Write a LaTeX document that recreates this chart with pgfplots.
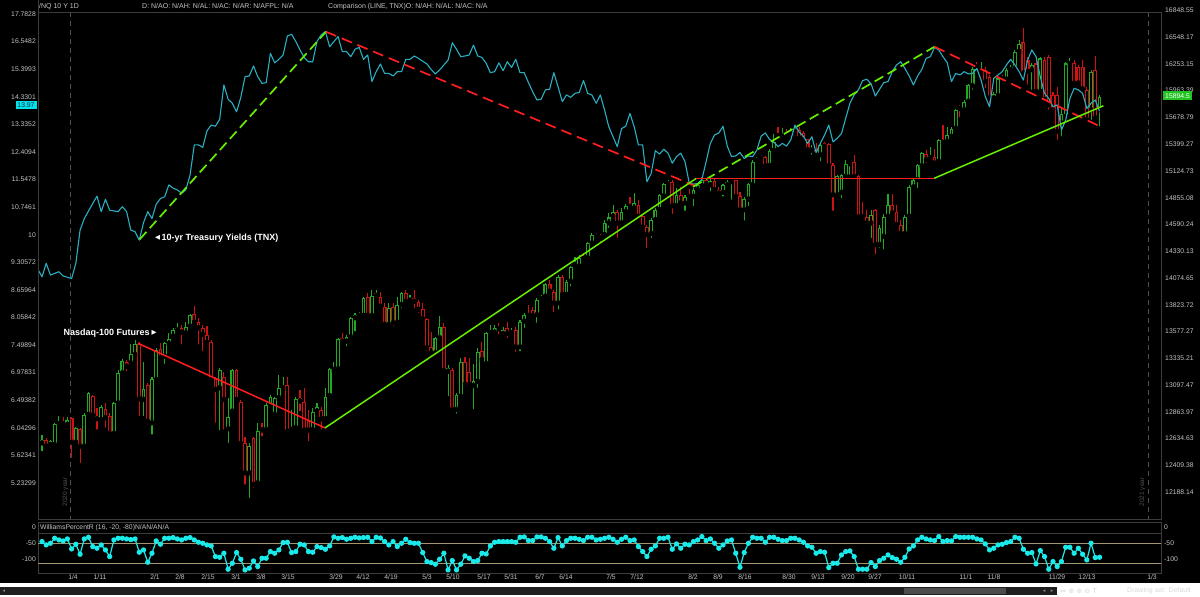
\documentclass[border=0pt]{standalone}
\usepackage{pgfplots}
\pgfplotsset{compat=1.18}
\usepackage{pgfplotstable}
\usepackage{fontspec}
\setmainfont{Liberation Sans}
\newfontfamily\symfont{DejaVu Sans}
\newcommand\fs[1]{\fontsize{#1}{#1}\selectfont}
\newcommand\LG[1]{0.4342945*ln(\thisrow{#1})}

\definecolor{upc}{HTML}{22A822}
\definecolor{dnc}{HTML}{CC1414}
\definecolor{tnxc}{HTML}{2AAFC2}
\definecolor{wprc}{HTML}{1AEAEA}
\definecolor{limec}{HTML}{66EE00}
\definecolor{redl}{HTML}{FF1E1E}
\definecolor{framec}{HTML}{3C3C3C}
\definecolor{lblc}{HTML}{C4C4C4}
\definecolor{tanc}{HTML}{A3966E}
\definecolor{yearc}{HTML}{505050}
\definecolor{cyanb}{HTML}{00E1F0}
\definecolor{greenb}{HTML}{22C422}

% /NQ daily bars, up and down days (i = bar index)
\pgfplotstableread[row sep=\\]{
i o h l c\\
0 12594 12666 12510 12623\\ 2 12580 12623 12544 12614\\ 3 12580 12766 12572 12757\\ 4 12757 12829 12737 12771\\
6 12751 12817 12714 12794\\ 8 12600 12737 12580 12723\\ 10 12566 12851 12552 12837\\ 11 12837 13040 12823 13031\\
14 12794 12924 12780 12903\\ 17 12674 12953 12651 12944\\ 18 12938 13231 12924 13201\\ 19 13201 13326 13186 13314\\
21 13290 13461 13275 13371\\ 22 13365 13500 13350 13461\\ 24 12967 13305 12808 13060\\ 26 12766 13171 12651 13148\\
27 13142 13425 13136 13410\\ 29 13350 13485 13266 13470\\ 30 13464 13562 13455 13507\\ 31 13531 13607 13516 13592\\
32 13586 13653 13577 13607\\ 34 13562 13668 13546 13622\\ 35 13622 13738 13592 13729\\ 42 13069 13246 12686 13231\\
44 12714 12982 12580 12823\\ 45 12866 13237 12851 13231\\ 49 12343 12594 12123 12572\\ 51 12260 12766 12246 12703\\
53 12708 12938 12694 12924\\ 54 12915 13010 12909 12990\\ 55 12837 12996 12829 12982\\ 56 12982 13186 12967 13069\\
57 13069 13171 13054 13084\\ 59 12708 12880 12694 12737\\ 60 12723 12996 12714 12973\\ 64 12708 12895 12703 12866\\
65 12866 12938 12851 12909\\ 67 12800 13069 12780 12996\\ 68 13002 13246 12990 13237\\ 69 13231 13305 13216 13246\\
70 13237 13516 13216 13507\\ 72 13485 13546 13425 13531\\ 73 13525 13714 13516 13699\\ 74 13699 13750 13562 13729\\
75 13720 13760 13699 13735\\ 76 13720 13900 13699 13884\\ 78 13720 13962 13714 13906\\ 79 13906 13962 13894 13931\\
82 13638 13837 13607 13797\\ 84 13659 13900 13638 13822\\ 85 13822 13947 13775 13931\\ 87 13862 13915 13837 13881\\
93 13380 13531 13350 13516\\ 94 13516 13720 13500 13622\\ 96 13216 13275 12982 13246\\ 98 12880 13025 12829 13010\\
99 12996 13335 12982 13305\\ 102 13089 13284 12866 13136\\ 103 13127 13425 13054 13395\\ 105 13284 13577 13275 13562\\
106 13562 13638 13546 13577\\ 107 13567 13638 13562 13607\\ 109 13555 13622 13546 13592\\ 111 13562 13607 13546 13586\\
113 13434 13684 13380 13668\\ 114 13668 13744 13592 13729\\ 117 13729 13884 13638 13869\\ 118 13875 13915 13869 13894\\
119 13900 14031 13884 14018\\ 122 13837 14103 13760 14087\\ 124 13915 14056 13900 14040\\ 125 14040 14190 13978 14177\\
126 14199 14279 14167 14222\\ 127 14183 14295 14167 14263\\ 129 14263 14422 14247 14406\\ 130 14406 14504 14390 14488\\
133 14488 14634 14471 14602\\ 134 14602 14699 14536 14660\\ 135 14667 14782 14641 14715\\ 137 14602 14749 14569 14715\\
138 14715 14792 14693 14772\\ 140 14749 14898 14732 14798\\ 144 14497 14651 14439 14634\\ 145 14634 14749 14602 14732\\
146 14732 14898 14715 14881\\ 147 14871 15005 14848 14992\\ 148 14992 15032 14965 15015\\ 150 14772 14948 14749 14881\\
152 14798 14881 14706 14858\\ 154 14865 14948 14749 14932\\ 155 14932 14998 14905 14982\\ 156 14972 15065 14965 15038\\
158 14982 15048 14898 15025\\ 161 14905 14998 14848 14982\\ 162 14982 15032 14972 15015\\ 163 15012 15038 14815 15025\\
166 14732 14865 14608 14838\\ 167 14838 15005 14749 14992\\ 168 14982 15236 14972 15219\\ 169 15229 15270 15219 15253\\
170 15253 15287 15236 15270\\ 172 15174 15345 15167 15332\\ 173 15332 15511 15322 15424\\ 175 15484 15564 15459 15504\\
177 15504 15564 15484 15539\\ 178 15529 15588 15504 15553\\ 182 15332 15390 15270 15345\\ 184 15287 15414 15202 15390\\
188 14881 15082 14865 15072\\ 189 14905 15099 14832 15082\\ 190 15065 15236 15048 15195\\ 191 15195 15229 15065 15219\\
196 14602 14732 14439 14683\\ 198 14390 14585 14342 14553\\ 199 14471 14699 14327 14667\\ 200 14667 14898 14651 14782\\
204 14497 14683 14488 14667\\ 205 14667 14982 14660 14965\\ 206 14958 15048 14932 15032\\ 207 15032 15202 14932 15184\\
208 15174 15322 15167 15304\\ 210 15253 15373 15236 15277\\ 212 15219 15449 15209 15442\\ 214 15424 15581 15407 15494\\
215 15477 15574 15470 15564\\ 216 15564 15774 15546 15756\\ 218 15756 15863 15739 15845\\ 219 15845 16035 15827 16024\\
220 16013 16222 15952 16204\\ 222 16168 16277 16150 16204\\ 225 15881 15952 15863 15927\\ 226 15906 16113 15891 16095\\
228 16084 16215 16070 16193\\ 229 16186 16240 16168 16222\\ 230 16204 16405 16193 16387\\ 231 16387 16515 16369 16478\\
234 16186 16259 15952 16240\\ 236 15952 16332 15934 16314\\ 241 15616 15774 15459 15721\\ 242 15686 16277 15669 16259\\
243 16251 16314 16222 16277\\ 248 15756 16186 15634 16168\\ 250 15756 15916 15564 15894.5\\
}\nqup

\pgfplotstableread[row sep=\\]{
i o h l c\\
1 12623 12637 12552 12566\\ 5 12774 12817 12737 12757\\ 7 12808 12817 12454 12600\\ 9 12714 12723 12412 12566\\
12 13002 13010 12794 12829\\ 13 12829 12895 12694 12800\\ 15 12886 12938 12708 12808\\ 16 12829 12851 12657 12674\\
20 13299 13320 13201 13260\\ 23 13461 13485 12808 12973\\ 25 13098 13113 12737 12780\\ 28 13416 13470 13305 13335\\
33 13607 13638 13440 13567\\ 36 13738 13812 13638 13659\\ 37 13668 13699 13440 13607\\ 38 13607 13638 13380 13546\\
39 13546 13628 13440 13476\\ 40 13485 13500 13127 13142\\ 41 13148 13171 12751 13054\\ 43 13171 13216 12694 12967\\
46 13231 13237 12953 12967\\ 47 12953 12967 12580 12588\\ 48 12600 12651 12233 12343\\ 50 12637 12651 12205 12246\\
52 12723 12766 12637 12703\\ 58 13098 13171 12680 12694\\ 61 12982 13054 12851 12953\\ 62 12953 13069 12694 12703\\
63 12789 12880 12594 12703\\ 66 12880 12909 12694 12800\\ 71 13516 13562 13470 13485\\ 77 13894 13931 13684 13720\\
80 13900 13947 13791 13806\\ 81 13806 13837 13622 13638\\ 83 13800 13837 13607 13653\\ 86 13931 13962 13837 13853\\
88 13884 13962 13775 13853\\ 89 13853 13869 13729 13775\\ 90 13784 13844 13684 13690\\ 91 13690 13699 13380 13425\\
92 13434 13577 13335 13380\\ 95 13622 13653 13216 13222\\ 97 13231 13246 12866 12880\\ 100 13305 13350 13084 13098\\
101 13216 13335 13084 13098\\ 104 13404 13485 13305 13320\\ 108 13607 13653 13531 13598\\ 110 13607 13668 13500 13555\\
112 13592 13622 13374 13434\\ 115 13738 13822 13699 13720\\ 116 13775 13806 13714 13720\\ 120 14018 14056 13931 13947\\
121 13947 13962 13738 13837\\ 123 14087 14103 13906 13915\\ 128 14279 14311 14231 14253\\ 131 14488 14504 14439 14471\\
132 14478 14497 14390 14455\\ 136 14715 14732 14439 14602\\ 139 14782 14865 14739 14765\\ 141 14782 14832 14651 14667\\
142 14673 14693 14543 14562\\ 143 14569 14585 14342 14488\\ 149 15015 15032 14673 14772\\ 151 14881 14965 14782 14798\\
153 14871 14938 14838 14858\\ 157 15032 15048 14965 14992\\ 159 15025 15048 14905 14932\\ 160 14932 14965 14865 14898\\
164 15032 15038 14858 14865\\ 165 14871 14915 14706 14732\\ 171 15263 15277 15150 15174\\ 174 15504 15574 15459 15484\\
176 15511 15564 15477 15491\\ 179 15546 15574 15442 15459\\ 180 15518 15539 15424 15442\\ 181 15449 15459 15322 15339\\
183 15345 15414 15270 15298\\ 185 15407 15424 15356 15373\\ 186 15400 15414 15167 15174\\ 187 15184 15202 14706 14881\\
192 15219 15287 15048 15065\\ 193 15072 15082 14634 14660\\ 194 14673 14815 14641 14660\\ 195 14667 14732 14585 14602\\
197 14732 14739 14279 14390\\ 201 14782 14898 14683 14699\\ 202 14715 14782 14569 14585\\ 203 14585 14634 14488 14497\\
209 15304 15339 15184 15236\\ 211 15270 15345 15167 15202\\ 213 15431 15599 15407 15414\\ 217 15785 15810 15658 15770\\
221 16229 16277 16168 16215\\ 223 16193 16222 15970 16059\\ 224 16113 16131 15792 15881\\ 227 16113 16131 16059 16084\\
232 16497 16657 16131 16150\\ 233 16295 16332 16006 16168\\ 235 16259 16332 15916 15952\\ 237 16302 16332 15845 15863\\
238 16332 16350 15739 15810\\ 239 15916 15952 15721 15756\\ 240 15916 16006 15424 15529\\ 244 16266 16295 16024 16041\\
245 16222 16240 16024 16041\\ 246 16215 16295 15952 15977\\ 247 15977 16006 15634 15651\\ 249 16186 16339 15651 15669\\
}\nqdn

% TNX comparison line (yield x10)
\pgfplotstableread[row sep=\\]{
i t\\
-1 9.14\\ 0 8.96\\ 1 9.28\\ 2 9.00\\ 4 9.08\\ 5 8.98\\ 7 8.92\\ 8 9.28\\ 9 10.12\\ 10 10.43\\ 12 10.85\\ 13 11.06\\
14 10.62\\ 15 10.97\\ 16 10.66\\ 18 10.62\\ 19 10.76\\ 20 10.62\\ 21 10.12\\ 22 10.08\\ 23 9.86\\ 24 10.32\\ 25 10.62\\
26 10.43\\ 27 10.83\\ 28 10.99\\ 29 11.04\\ 30 11.39\\ 31 11.29\\ 32 11.24\\ 33 11.14\\ 34 11.24\\ 35 11.68\\ 36 12.64\\
37 12.64\\ 38 12.56\\ 39 13.11\\ 40 13.31\\ 41 13.27\\ 42 13.51\\ 43 14.78\\ 44 14.24\\ 45 14.09\\ 46 13.78\\ 47 14.31\\
48 15.10\\ 49 15.13\\ 50 15.53\\ 51 15.10\\ 52 14.84\\ 53 14.87\\ 54 16.05\\ 55 15.66\\ 56 15.80\\ 57 15.98\\ 58 16.79\\
59 16.87\\ 60 16.55\\ 61 16.19\\ 62 15.87\\ 63 15.70\\ 64 15.70\\ 65 16.55\\ 66 16.84\\ 67 16.99\\ 68 16.33\\ 70 16.77\\
71 16.12\\ 72 16.12\\ 73 15.91\\ 74 16.22\\ 75 16.30\\ 76 15.80\\ 77 15.98\\ 78 14.91\\ 79 15.30\\ 80 15.61\\ 81 15.23\\
82 15.23\\ 83 15.13\\ 84 15.30\\ 85 15.30\\ 86 15.80\\ 87 15.80\\ 88 15.94\\ 89 15.84\\ 91 15.61\\ 92 15.39\\ 93 15.21\\
94 15.37\\ 95 15.57\\ 96 15.77\\ 97 16.50\\ 98 16.22\\ 99 15.91\\ 100 15.94\\ 101 15.98\\ 102 16.40\\ 103 15.94\\ 104 15.88\\
105 15.64\\ 106 15.26\\ 107 15.30\\ 108 15.66\\ 109 15.34\\ 110 15.70\\ 111 15.47\\ 112 15.80\\ 113 15.26\\ 114 15.26\\
115 14.87\\ 116 14.52\\ 117 14.21\\ 118 14.24\\ 119 14.59\\ 120 14.61\\ 121 15.26\\ 122 14.71\\ 123 14.15\\ 124 14.40\\
125 14.31\\ 126 14.46\\ 127 14.49\\ 128 14.95\\ 129 14.46\\ 130 14.40\\ 131 14.09\\ 132 14.40\\ 133 13.84\\ 134 13.25\\
135 12.91\\ 136 12.58\\ 137 13.19\\ 138 13.27\\ 139 13.72\\ 140 13.25\\ 141 12.64\\ 142 12.64\\ 143 11.48\\ 144 11.73\\
145 12.45\\ 146 12.34\\ 147 12.50\\ 148 12.37\\ 149 12.05\\ 150 12.26\\ 151 12.37\\ 152 12.10\\ 153 11.45\\ 154 11.41\\
155 11.43\\ 156 11.55\\ 157 12.10\\ 158 12.69\\ 159 12.97\\ 160 13.04\\ 161 13.27\\ 162 12.60\\ 163 12.26\\ 164 12.28\\
165 12.39\\ 166 12.20\\ 167 12.28\\ 168 12.26\\ 169 12.47\\ 170 12.93\\ 171 13.04\\ 172 12.82\\ 173 12.74\\ 174 12.58\\
175 12.69\\ 176 12.60\\ 177 12.80\\ 178 13.31\\ 179 13.07\\ 180 12.93\\ 181 12.69\\ 182 12.91\\ 183 12.39\\ 184 12.69\\
185 12.97\\ 186 13.31\\ 187 12.74\\ 188 12.86\\ 189 13.02\\ 190 13.55\\ 191 14.09\\ 192 14.40\\ 193 14.59\\ 194 14.95\\
195 15.00\\ 196 14.82\\ 197 14.36\\ 199 14.87\\ 200 14.91\\ 201 15.30\\ 202 15.57\\ 203 15.70\\ 204 15.43\\ 205 15.13\\
206 14.78\\ 207 15.13\\ 208 15.39\\ 209 15.84\\ 210 15.91\\ 211 16.30\\ 212 16.19\\ 213 15.91\\ 214 15.66\\ 215 14.91\\
216 15.23\\ 217 15.17\\ 218 15.30\\ 219 15.21\\ 220 15.23\\ 221 15.43\\ 222 14.97\\ 223 14.34\\ 224 13.96\\ 225 15.04\\
226 15.17\\ 227 15.30\\ 228 15.57\\ 229 15.80\\ 230 15.57\\ 231 15.30\\ 232 14.97\\ 233 15.77\\ 234 16.19\\ 235 15.91\\
236 15.10\\ 237 14.46\\ 238 14.27\\ 239 13.96\\ 240 14.03\\ 241 13.14\\ 242 13.48\\ 243 14.27\\ 244 14.65\\ 245 14.59\\
246 14.46\\ 247 13.90\\ 248 14.09\\ 249 14.21\\ 250 13.80\\
}\tnx

% Williams %R (16)
\pgfplotstableread[row sep=\\]{
i w\\
0 -15\\ 1 -25\\ 2 -20\\ 3 -5\\ 4 -10\\ 5 -13\\ 6 -7\\ 7 -37\\ 8 -23\\ 9 -53\\ 10 -7\\ 11 -2\\ 12 -30\\ 13 -35\\ 14 -25\\
15 -40\\ 16 -60\\ 17 -10\\ 18 -5\\ 19 -5\\ 20 -7\\ 21 -9\\ 22 -7\\ 23 -47\\ 24 -40\\ 25 -77\\ 26 -50\\ 27 -13\\ 28 -23\\
29 -5\\ 30 -5\\ 31 -3\\ 32 -7\\ 33 -10\\ 34 -5\\ 35 -3\\ 36 -10\\ 37 -17\\ 38 -20\\ 39 -25\\ 40 -28\\ 41 -60\\ 42 -62\\
43 -50\\ 44 -98\\ 45 -80\\ 46 -48\\ 47 -68\\ 48 -100\\ 49 -95\\ 50 -73\\ 51 -90\\ 52 -65\\ 53 -65\\ 54 -45\\ 55 -50\\
56 -40\\ 57 -18\\ 58 -17\\ 59 -48\\ 60 -45\\ 61 -23\\ 62 -25\\ 63 -45\\ 64 -47\\ 65 -30\\ 66 -33\\ 67 -38\\ 68 -28\\
69 -1\\ 70 -5\\ 71 -3\\ 72 -8\\ 73 -5\\ 74 -2\\ 75 -4\\ 76 -3\\ 77 -2\\ 78 -15\\ 79 -2\\ 80 -4\\ 81 -15\\ 82 -25\\
83 -15\\ 84 -30\\ 85 -20\\ 86 -8\\ 87 -18\\ 88 -20\\ 89 -20\\ 90 -48\\ 91 -75\\ 92 -78\\ 93 -83\\ 94 -68\\ 95 -50\\
96 -100\\ 97 -72\\ 98 -100\\ 99 -83\\ 100 -58\\ 101 -65\\ 102 -75\\ 103 -72\\ 104 -50\\ 105 -52\\ 106 -28\\ 107 -17\\
108 -15\\ 109 -15\\ 110 -15\\ 111 -15\\ 112 -17\\ 113 -2\\ 114 -1\\ 115 -12\\ 116 -12\\ 117 -1\\ 118 -1\\ 119 -5\\
120 -15\\ 121 -35\\ 122 -3\\ 123 -28\\ 124 -12\\ 125 -5\\ 126 -5\\ 127 -8\\ 128 -12\\ 129 -2\\ 130 -2\\ 131 -10\\
132 -8\\ 133 -5\\ 134 -2\\ 135 -8\\ 136 -17\\ 137 -8\\ 138 -2\\ 139 -12\\ 140 -10\\ 141 -30\\ 142 -45\\ 143 -60\\
144 -38\\ 145 -28\\ 146 -5\\ 147 -5\\ 148 -2\\ 149 -38\\ 150 -22\\ 151 -35\\ 152 -23\\ 153 -25\\ 154 -15\\ 155 -10\\
156 0\\ 157 -12\\ 158 -7\\ 159 -20\\ 160 -35\\ 161 -25\\ 162 -13\\ 163 -10\\ 164 -50\\ 165 -92\\ 166 -48\\ 167 -20\\
168 -2\\ 169 -5\\ 170 -5\\ 171 -17\\ 172 -2\\ 173 -2\\ 174 -8\\ 175 -12\\ 176 -12\\ 177 -5\\ 178 -5\\ 179 -10\\
180 -17\\ 181 -28\\ 182 -32\\ 183 -50\\ 184 -45\\ 185 -47\\ 186 -93\\ 187 -80\\ 188 -80\\ 189 -55\\ 190 -45\\ 191 -43\\
192 -60\\ 193 -98\\ 194 -98\\ 195 -98\\ 196 -78\\ 197 -90\\ 198 -72\\ 199 -65\\ 200 -55\\ 201 -63\\ 202 -68\\ 203 -77\\
204 -62\\ 205 -37\\ 206 -28\\ 207 -10\\ 208 -2\\ 209 -7\\ 210 -10\\ 211 -12\\ 212 0\\ 213 -15\\ 214 -12\\ 215 -13\\
216 0\\ 217 -2\\ 218 -2\\ 219 -2\\ 220 -2\\ 221 -7\\ 222 -10\\ 223 -22\\ 224 -40\\ 225 -35\\ 226 -25\\ 227 -23\\
228 -18\\ 229 -15\\ 230 -2\\ 231 -5\\ 232 -38\\ 233 -50\\ 234 -48\\ 235 -82\\ 236 -42\\ 237 -60\\ 238 -98\\ 239 -75\\
240 -90\\ 241 -75\\ 242 -32\\ 243 -32\\ 244 -50\\ 245 -35\\ 246 -53\\ 247 -70\\ 248 -20\\ 249 -63\\ 250 -62\\
}\wpr

\pgfplotsset{
  panel/.style={scale only axis, anchor=south west, width=1123pt,
    xmin=-0.9456, xmax=264.54,
    axis line style={draw=framec, line width=0.8pt},
    major tick length=0pt, xtick=\empty, ytick=\empty,
    tick label style={text=lblc, font=\fs{6.8}, inner sep=0pt}},
  cnd/.style 2 args={only marks, mark=none,
    error bars/y dir=plus, error bars/y explicit, error bars/error mark=none,
    error bars/error bar style={draw=#1, line width=#2, line cap=butt}},
}

\begin{document}
\begin{tikzpicture}
\useasboundingbox (0,0) rectangle (1200pt,597pt);
\fill[black] (0,0) rectangle (1200pt,597pt);
\begin{scope}[x=1pt,y=1pt]
\draw[yearc, line width=0.8pt, dash pattern=on 5pt off 4pt] (70,585) -- (70,78);
\draw[yearc, line width=0.8pt, dash pattern=on 5pt off 4pt] (1148,585) -- (1148,78);
\node[rotate=90, text=yearc, font=\fs{6.5}] at (65.5,105) {2020 year};
\node[rotate=90, text=yearc, font=\fs{6.5}] at (1142.5,105) {2021 year};
\end{scope}

% price panel: /NQ candles, right log scale
\begin{axis}[panel, at={(38pt,78pt)}, height=507pt, ymin=4.07805, ymax=4.22609,
  ytick={4.0859375,4.09375,4.1015625,4.109375,4.1171875,4.125,4.1328125,4.140625,4.1484375,
         4.15625,4.1640625,4.171875,4.1796875,4.1875,4.1953125,4.203125,4.2109375,4.21875},
  yticklabels={12188.14,12409.38,12634.63,12863.97,13097.47,13335.21,13577.27,13823.72,14074.65,
         14330.13,14590.24,14855.08,15124.73,15399.27,15678.79,15963.39,16253.15,16548.17},
  yticklabel pos=right, yticklabel style={anchor=west, xshift=4pt}]
\addplot[cnd={upc}{1.1pt}] table[x=i, y expr={\LG{l}}, y error expr={0.4342945*ln(\thisrow{h}/\thisrow{l})}] {\nqup};
\addplot[cnd={dnc}{1.1pt}] table[x=i, y expr={\LG{l}}, y error expr={0.4342945*ln(\thisrow{h}/\thisrow{l})}] {\nqdn};
\addplot[cnd={upc}{3.8pt}] table[x=i, y expr={\LG{o}}, y error expr={max(0.00035,0.4342945*ln(\thisrow{c}/\thisrow{o}))}] {\nqup};
\addplot[cnd={black}{1.7pt}] table[x=i, y expr={\LG{o}+0.0003}, y error expr={max(0,0.4342945*ln(\thisrow{c}/\thisrow{o})-0.0006)}] {\nqup};
\addplot[cnd={dnc}{3.8pt}] table[x=i, y expr={\LG{c}}, y error expr={max(0.00035,0.4342945*ln(\thisrow{o}/\thisrow{c}))}] {\nqdn};
\addplot[cnd={black}{1.7pt}] table[x=i, y expr={\LG{c}+0.0003}, y error expr={max(0,0.4342945*ln(\thisrow{o}/\thisrow{c})-0.0006)}] {\nqdn};
\end{axis}

% comparison: TNX, left log scale
\begin{axis}[panel, at={(38pt,78pt)}, height=507pt, ymin=0.67797, ymax=1.25227,
  ytick={0.71875,0.75,0.78125,0.8125,0.84375,0.875,0.90625,0.9375,0.96875,1,
         1.03125,1.0625,1.09375,1.125,1.15625,1.1875,1.21875,1.25},
  yticklabels={5.23299,5.62341,6.04296,6.49382,6.97831,7.49894,8.05842,8.65964,9.30572,10,
         10.7461,11.5478,12.4094,13.3352,14.3301,15.3993,16.5482,17.7828},
  yticklabel style={anchor=east, xshift=-2pt}]
\addplot[tnxc, line width=1.1pt, line join=round, mark=none] table[x=i, y expr={\LG{t}}] {\tnx};
\addplot[limec, line width=1.7pt, dash pattern=on 10pt off 5pt] table[x=i, y expr={\LG{t}}, row sep=\\] {i t\\ 23.1 9.88\\ 67.14 16.98\\};
\addplot[redl, line width=1.7pt, dash pattern=on 11pt off 6pt] table[x=i, y expr={\LG{t}}, row sep=\\] {i t\\ 67.14 16.98\\ 154.3 11.36\\};
\addplot[limec, line width=1.7pt, dash pattern=on 10pt off 5pt] table[x=i, y expr={\LG{t}}, row sep=\\] {i t\\ 153.9 11.33\\ 211.0 16.33\\};
\addplot[redl, line width=1.7pt, dash pattern=on 11pt off 6pt] table[x=i, y expr={\LG{t}}, row sep=\\] {i t\\ 211.0 16.33\\ 250.6 13.23\\};
\end{axis}

% trend lines drawn on the /NQ scale
\begin{axis}[panel, at={(38pt,78pt)}, height=507pt, ymin=4.07805, ymax=4.22609]
\addplot[redl, line width=1.5pt] table[x=i, y expr={\LG{p}}, row sep=\\] {i p\\ 22.7 13470\\ 66.9 12725\\};
\addplot[limec, line width=1.5pt] table[x=i, y expr={\LG{p}}, row sep=\\] {i p\\ 66.9 12725\\ 154.7 15050\\};
\addplot[redl, line width=1.5pt] table[x=i, y expr={\LG{p}}, row sep=\\] {i p\\ 154.7 15050\\ 210.9 15050\\};
\addplot[limec, line width=1.5pt] table[x=i, y expr={\LG{p}}, row sep=\\] {i p\\ 210.9 15050\\ 250.9 15802\\};
\end{axis}

% Williams %R panel
\begin{axis}[panel, at={(38pt,24pt)}, height=51pt, ymin=-109.3, ymax=43.8,
  xtick={7.33,13.71,26.71,32.62,39.24,45.86,51.77,58.16,69.50,75.89,82.51,91.02,97.16,104.49,110.87,117.73,
         123.88,134.52,140.66,153.90,159.81,166.19,176.60,183.45,190.54,196.93,204.49,218.44,225.06,239.95,247.04,262.41},
  xticklabels={1/4,1/11,2/1,2/8,2/15,3/1,3/8,3/15,3/29,4/12,4/19,5/3,5/10,5/17,5/31,6/7,
         6/14,7/5,7/12,8/2,8/9,8/16,8/30,9/13,9/20,9/27,10/11,11/1,11/8,11/29,12/13,1/3},
  xticklabel style={yshift=-1.5pt}]
\addplot[tanc, line width=0.9pt] coordinates {(-2,-20) (266,-20)};
\addplot[tanc, line width=0.9pt] coordinates {(-2,-80) (266,-80)};
\addplot[wprc, line width=1.2pt, mark=*, mark size=2pt, mark options={draw=none, fill=wprc}] table[x=i, y=w] {\wpr};
\end{axis}

\begin{scope}[x=1pt,y=1pt]
% header
\draw[framec, line width=0.8pt] (38,597) -- (38,585);
\node[anchor=west, inner sep=0pt, text=lblc, font=\fs{7}] at (39,590.5) {/NQ 10 Y 1D};
\node[anchor=west, inner sep=0pt, text=lblc, font=\fs{7}] at (142,590.5) {D: N/AO: N/AH: N/AL: N/AC: N/AR: N/AFPL: N/A};
\node[anchor=west, inner sep=0pt, text=lblc, font=\fs{7}] at (328,590.5) {Comparison (LINE, TNX)O: N/AH: N/AL: N/AC: N/A};
\node[anchor=west, inner sep=0pt, text=lblc, font=\fs{6.8}] at (1165,586.5) {16848.55};
% annotations
\node[anchor=west, inner sep=0pt, text=white, font=\symfont\fs{6.5}] at (155,359) {◀};
\node[anchor=west, inner sep=0pt, text=white, font=\bfseries\fs{9}] at (161.5,359) {10-yr Treasury Yields (TNX)};
\node[anchor=west, inner sep=0pt, text=white, font=\bfseries\fs{9}] at (63.5,264) {Nasdaq-100 Futures};
\node[anchor=west, inner sep=0pt, text=white, font=\symfont\fs{6.5}] at (151.5,264) {▶};
% last value badges
\node[fill=cyanb, text=black!85, inner sep=0pt, minimum width=21pt, minimum height=8pt, font=\fs{6.8}] at (26,492) {13.97};
\node[fill=greenb, text=white, inner sep=0pt, minimum width=29pt, minimum height=8.5pt, font=\fs{6.8}] at (1177.5,501.3) {15894.5};
% Williams panel texts
\draw[framec, line width=0.6pt] (38,64) -- (1161,64);
\node[anchor=west, inner sep=0pt, text=lblc, font=\fs{6.8}] at (40,69) {WilliamsPercentR (16, -20, -80)N/AN/AN/A};
\node[anchor=east, inner sep=0pt, text=lblc, font=\fs{6.8}] at (36,70) {0};
\node[anchor=east, inner sep=0pt, text=lblc, font=\fs{6.8}] at (36,54) {-50};
\node[anchor=east, inner sep=0pt, text=lblc, font=\fs{6.8}] at (36,38) {-100};
\node[anchor=west, inner sep=0pt, text=lblc, font=\fs{6.8}] at (1164,70) {0};
\node[anchor=west, inner sep=0pt, text=lblc, font=\fs{6.8}] at (1164,54) {-50};
\node[anchor=west, inner sep=0pt, text=lblc, font=\fs{6.8}] at (1164,38) {-100};
% scroll bar
\fill[white] (0,0) rectangle (1200,14);
\fill[black!88] (0,1.5) rectangle (1057,10);
\fill[black!70] (904,2.5) rectangle (1006,9);
\node[text=black!45, font=\symfont\fs{5}] at (4,6) {◂};
\node[text=black!45, font=\symfont\fs{5}] at (1044,6) {◂};
\node[text=black!45, font=\symfont\fs{5}] at (1052,6) {▸};
\node[anchor=west, inner sep=0pt, text=black!15, font=\symfont\fs{7}] at (1060,6) {⇔ ⊕ ⊕ ⊖ T};
\node[anchor=west, inner sep=0pt, text=black!15, font=\fs{7}] at (1127,6) {Drawing set: Default};
\end{scope}
\end{tikzpicture}
\end{document}
